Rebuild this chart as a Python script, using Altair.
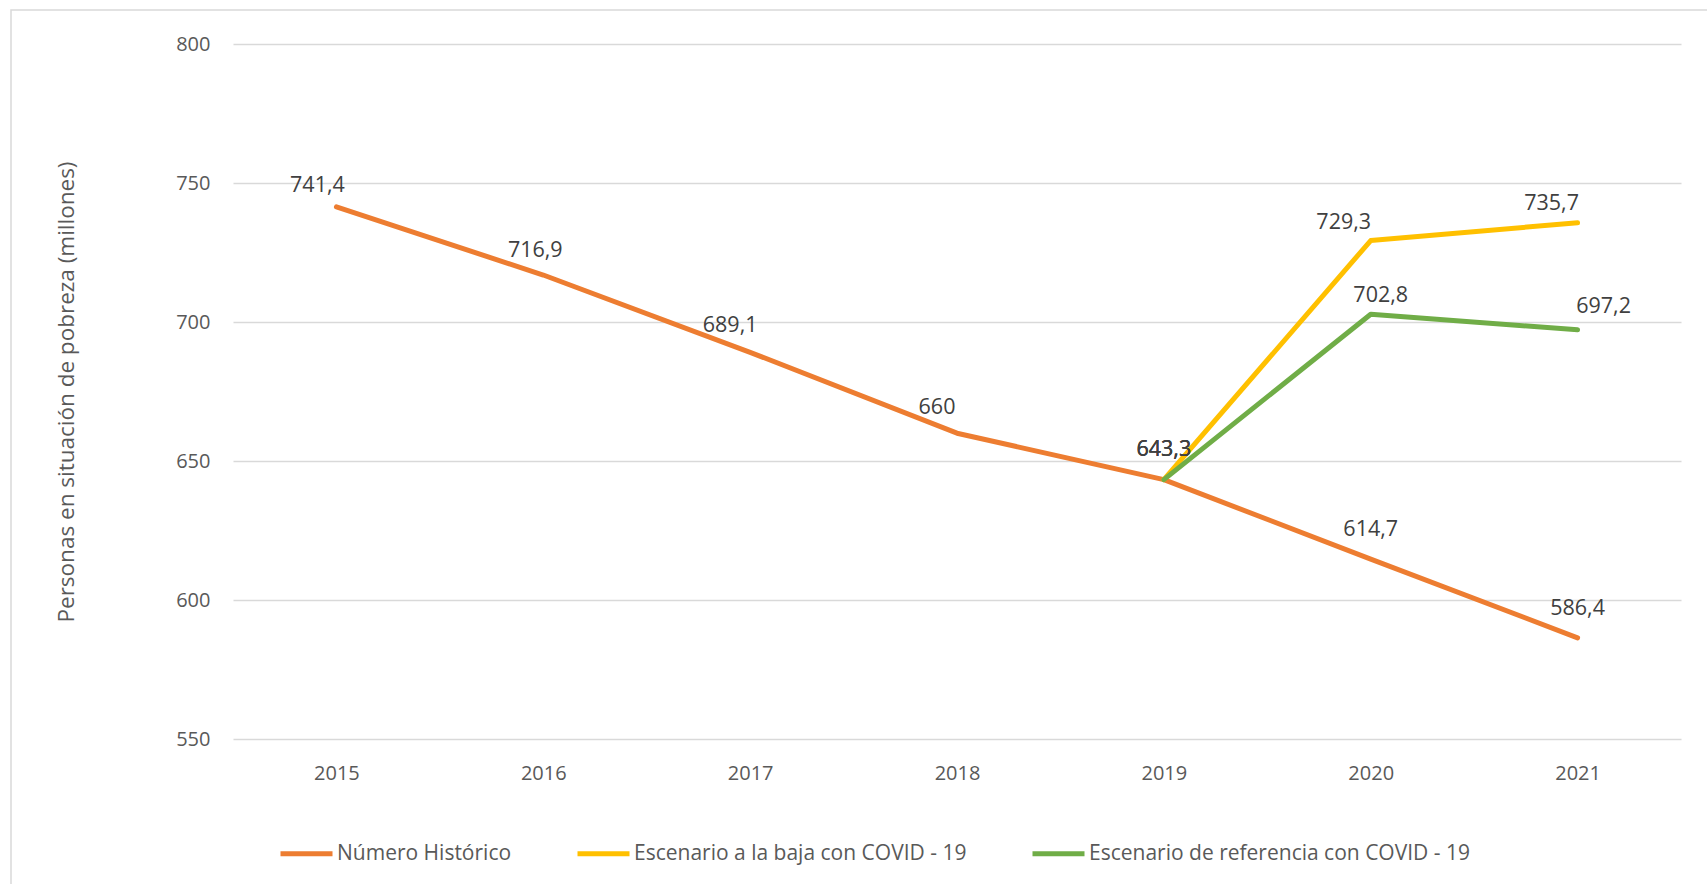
import altair as alt
import pandas as pd

# Years on the horizontal axis
years = ["2015", "2016", "2017", "2018", "2019", "2020", "2021"]

# Series names (legend order = drawing order)
series_names = [
    "Número Histórico",
    "Escenario a la baja con COVID - 19",
    "Escenario de referencia con COVID - 19",
]
series_colors = ["#ED7D31", "#FFC000", "#70AD47"]

# People in poverty (millions)
historico = [741.4, 716.9, 689.1, 660.0, 643.3, 614.7, 586.4]
baja = [None, None, None, None, 643.3, 729.3, 735.7]
referencia = [None, None, None, None, 643.3, 702.8, 697.2]

# Pixel nudges for the data labels (dx, dy from the point, dy to the baseline)
label_nudge = {
    "Número Histórico": [(-19, -15), (-8, -18), (-20, -20), (-20, -19), (0, -24), (0, -23), (0, -23)],
    "Escenario a la baja con COVID - 19": [None, None, None, None, (0, -24), (-27, -12), (-26, -13)],
    "Escenario de referencia con COVID - 19": [None, None, None, None, (0, -24), (10, -12), (26, -17)],
}

rows = []
for name, values in zip(series_names, [historico, baja, referencia]):
    for order, (yr, v) in enumerate(zip(years, values)):
        if v is not None:
            rows.append({"Año": yr, "Serie": name, "Valor": v, "orden": order})
df = pd.DataFrame(rows)


def fmt(v):
    s = f"{v:.1f}".replace(".", ",")
    return s[:-2] if s.endswith(",0") else s


FONT = "Open Sans"
W, H = 1448, 695

x_enc = alt.X(
    "Año:N",
    sort=years,
    scale=alt.Scale(type="point", padding=0.5),
    axis=alt.Axis(
        title=None, labelAngle=0, ticks=False, domain=False, grid=False,
        labelPadding=24, labelFontSize=20, labelColor="#595959", labelFont=FONT,
    ),
)
y_enc = alt.Y(
    "Valor:Q",
    scale=alt.Scale(domain=[550, 800], nice=False, zero=False),
    axis=alt.Axis(
        values=[550, 600, 650, 700, 750, 800],
        title="Personas en situación de pobreza (millones)",
        titleFont=FONT, titleFontSize=22.5, titleFontWeight="normal", titleColor="#595959",
        titleX=-167, titleY=H / 2, titleAngle=-90, titleAlign="center", titleBaseline="middle",
        labelFont=FONT, labelFontSize=20, labelColor="#595959", labelPadding=23,
        ticks=False, domain=False, grid=True, gridColor="#D9D9D9", gridWidth=1.3,
    ),
)

# Outer chart frame
frame = alt.Chart(pd.DataFrame({"k": [0]})).mark_rect(
    fill=None, stroke="#D9D9D9", strokeWidth=1.5
).encode(
    x=alt.value(11 - 233), x2=alt.value(1740 - 233),
    y=alt.value(10 - 44), y2=alt.value(920),
)

lines = alt.Chart(df).mark_line(strokeWidth=5, strokeCap="round", strokeJoin="round").encode(
    x=x_enc,
    y=y_enc,
    color=alt.Color(
        "Serie:N",
        scale=alt.Scale(domain=series_names, range=series_colors),
        legend=alt.Legend(
            title=None, orient="none", direction="horizontal",
            legendX=45, legendY=781, padding=0,
            symbolType="stroke", symbolSize=2704, symbolStrokeWidth=5,
            labelFont=FONT, labelFontSize=21, labelColor="#595959",
            labelOffset=2, columnPadding=55, labelLimit=600,
        ),
    ),
    detail="Serie:N",
    order="orden:Q",
)

label_layers = []
for name, values in zip(series_names, [historico, baja, referencia]):
    for yr, v, nudge in zip(years, values, label_nudge[name]):
        if v is None:
            continue
        dx, dy = nudge
        label_layers.append(
            alt.Chart(pd.DataFrame({"Año": [yr], "Valor": [v], "txt": [fmt(v)]}))
            .mark_text(font=FONT, fontSize=21.5, color="#404040", baseline="alphabetic",
                       align="center", dx=dx, dy=dy)
            .encode(
                x=alt.X("Año:N", sort=years, scale=alt.Scale(type="point", padding=0.5)),
                y=alt.Y("Valor:Q", scale=alt.Scale(domain=[550, 800], nice=False, zero=False)),
                text="txt:N",
            )
        )

chart = alt.layer(frame, lines, *label_layers).properties(
    width=W,
    height=H,
    autosize=alt.AutoSizeParams(type="none"),
    padding={"left": 233, "top": 44, "right": 26, "bottom": 145},
    background="white",
).configure_view(strokeWidth=0)

chart.save("out.html", embed_options={"renderer": "svg", "actions": False})
